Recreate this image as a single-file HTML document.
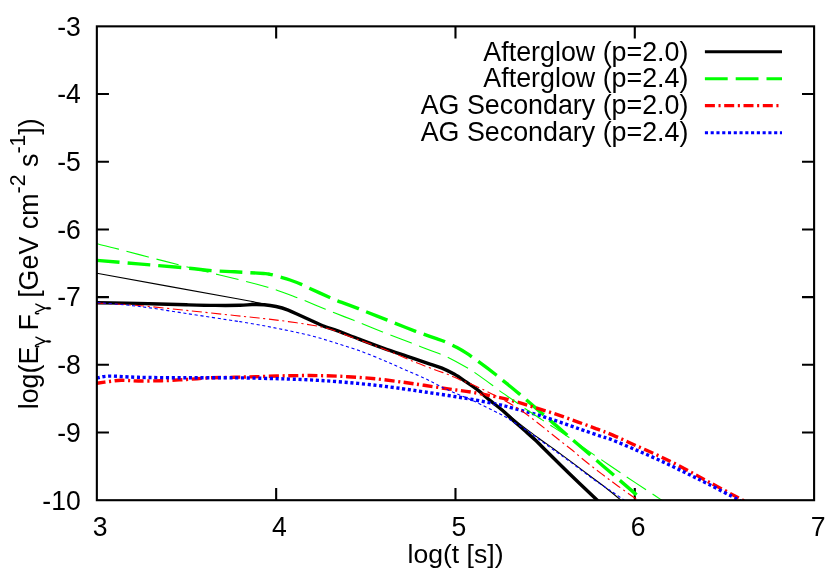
<!DOCTYPE html>
<html><head><meta charset="utf-8"><title>plot</title>
<style>
html,body{margin:0;padding:0;background:#fff;}
body{width:830px;height:581px;overflow:hidden;}
svg{display:block;will-change:transform;transform:translateZ(0);font-family:"Liberation Sans",sans-serif;font-size:26.6px;fill:#000;}
</style></head><body>
<svg width="830" height="581" viewBox="0 0 830 581">
<rect width="830" height="581" fill="#fff"/>
<defs><clipPath id="c"><rect x="96.85" y="26.35" width="717.25" height="473.84999999999997"/></clipPath></defs>
<g stroke="#000" stroke-width="2.1" fill="none">
<path d="M276.16 500.20V488.10M276.16 26.35V38.45"/>
<path d="M455.48 500.20V488.10M455.48 26.35V38.45"/>
<path d="M634.79 500.20V488.10M634.79 26.35V38.45"/>
<path d="M96.85 94.04H108.95M814.10 94.04H802.00"/>
<path d="M96.85 161.74H108.95M814.10 161.74H802.00"/>
<path d="M96.85 229.43H108.95M814.10 229.43H802.00"/>
<path d="M96.85 297.12H108.95M814.10 297.12H802.00"/>
<path d="M96.85 364.81H108.95M814.10 364.81H802.00"/>
<path d="M96.85 432.51H108.95M814.10 432.51H802.00"/>
</g>
<g clip-path="url(#c)" fill="none" stroke-linecap="butt" stroke-linejoin="round">
<path d="M96.85 302.70C103.71 302.82 123.08 303.05 138.00 303.40C152.93 303.75 173.52 304.47 186.40 304.80C199.28 305.13 206.37 305.32 215.30 305.40C224.23 305.48 233.88 305.45 240.00 305.30C246.12 305.15 247.98 304.60 252.00 304.50C256.02 304.40 260.08 304.37 264.10 304.70C268.12 305.03 272.08 305.60 276.10 306.50C280.12 307.40 284.18 308.60 288.20 310.10C292.22 311.60 296.18 313.68 300.20 315.50C304.22 317.32 308.28 319.18 312.30 321.00C316.32 322.82 320.52 324.93 324.30 326.40C328.08 327.87 329.20 327.68 335.00 329.80C340.80 331.92 351.07 336.05 359.10 339.10C367.13 342.15 375.17 345.22 383.20 348.10C391.23 350.98 399.50 353.73 407.30 356.40C415.10 359.07 424.22 362.15 430.00 364.10C435.78 366.05 437.98 366.43 442.00 368.10C446.02 369.77 450.08 371.80 454.10 374.10C458.12 376.40 462.08 379.18 466.10 381.90C470.12 384.62 474.18 387.28 478.20 390.40C482.22 393.52 486.18 397.30 490.20 400.60C494.22 403.90 498.67 407.10 502.30 410.20C505.93 413.30 508.37 415.90 512.00 419.20C515.63 422.50 520.08 426.40 524.10 430.00C528.12 433.60 532.68 437.58 536.10 440.80C539.52 444.02 538.95 443.73 544.60 449.30C550.25 454.87 561.35 465.83 570.00 474.20C578.65 482.57 591.17 494.42 596.50 499.50C601.83 504.58 601.08 503.83 602.00 504.70" stroke="#000" stroke-width="3.4"/>
<path d="M96.85 260.40C103.74 260.98 123.27 262.63 138.20 263.90C153.12 265.17 174.17 266.88 186.40 268.00C198.63 269.12 203.57 269.97 211.60 270.60C219.63 271.23 225.95 271.32 234.60 271.80C243.25 272.28 257.60 273.08 263.50 273.50C269.40 273.92 267.18 273.70 270.00 274.30C272.82 274.90 277.07 276.15 280.40 277.10C283.73 278.05 286.40 278.75 290.00 280.00C293.60 281.25 298.78 283.23 302.00 284.60C305.22 285.97 304.67 286.05 309.30 288.20C313.93 290.35 325.08 295.38 329.80 297.50C334.52 299.62 332.82 299.05 337.60 300.90C342.38 302.75 353.82 306.82 358.50 308.60C363.18 310.38 360.88 309.68 365.70 311.60C370.52 313.52 382.58 318.18 387.40 320.10C392.22 322.02 389.88 321.23 394.60 323.10C399.32 324.97 410.87 329.47 415.70 331.30C420.53 333.13 420.38 332.95 423.60 334.10C426.82 335.25 431.52 336.97 435.00 338.20C438.48 339.43 440.83 339.95 444.50 341.50C448.17 343.05 453.40 345.60 457.00 347.50C460.60 349.40 462.67 350.65 466.10 352.90C469.53 355.15 472.57 357.32 477.60 361.00C482.63 364.68 492.18 371.83 496.30 375.00C500.42 378.17 498.47 376.85 502.30 380.00C506.13 383.15 512.45 388.13 519.30 393.90C526.15 399.67 534.55 406.98 543.40 414.60C552.25 422.22 563.65 432.07 572.40 439.60C581.15 447.13 588.17 453.15 595.90 459.80C603.63 466.45 612.02 473.65 618.80 479.50C625.58 485.35 633.63 492.33 636.60 494.90" stroke="#00ff00" stroke-width="3.4" stroke-dasharray="22.8 8" stroke-dashoffset="0"/>
<path d="M96.85 383.20C98.92 382.92 105.22 381.98 109.30 381.50C113.38 381.02 116.48 380.38 121.30 380.30C126.12 380.22 131.37 380.93 138.20 381.00C145.03 381.07 154.27 380.95 162.30 380.70C170.33 380.45 178.37 379.98 186.40 379.50C194.43 379.02 202.47 378.17 210.50 377.80C218.53 377.43 226.57 377.50 234.60 377.30C242.63 377.10 249.47 376.87 258.70 376.60C267.93 376.33 279.97 375.87 290.00 375.70C300.03 375.53 309.27 375.43 318.90 375.60C328.53 375.77 338.17 376.15 347.80 376.70C357.43 377.25 367.40 377.97 376.70 378.90C386.00 379.83 395.70 381.23 403.60 382.30C411.50 383.37 416.67 384.20 424.10 385.30C431.53 386.40 440.17 387.73 448.20 388.90C456.23 390.07 463.67 390.85 472.30 392.30C480.93 393.75 493.38 396.20 500.00 397.60C506.62 399.00 507.98 399.62 512.00 400.70C516.02 401.78 520.08 402.90 524.10 404.10C528.12 405.30 532.08 406.65 536.10 407.90C540.12 409.15 544.18 410.32 548.20 411.60C552.22 412.88 556.18 414.20 560.20 415.60C564.22 417.00 568.28 418.55 572.30 420.00C576.32 421.45 580.28 422.83 584.30 424.30C588.32 425.77 591.73 427.03 596.40 428.80C601.07 430.57 605.63 432.07 612.30 434.90C618.97 437.73 628.37 442.18 636.40 445.80C644.43 449.42 652.47 452.78 660.50 456.60C668.53 460.42 676.57 464.48 684.60 468.70C692.63 472.92 699.23 476.77 708.70 481.90C718.17 487.03 734.68 495.82 741.40 499.50C748.12 503.18 747.73 503.25 749.00 504.00" stroke="#ff0000" stroke-width="3.4" stroke-dasharray="10 3.6 2.1 3.6" stroke-dashoffset="1.4"/>
<path d="M96.85 378.00C98.92 377.68 102.41 376.22 109.30 376.10C116.19 375.98 125.35 377.02 138.20 377.30C151.05 377.58 170.33 377.72 186.40 377.80C202.47 377.88 220.67 377.68 234.60 377.80C248.53 377.92 260.28 378.27 270.00 378.50C279.72 378.73 284.75 378.88 292.90 379.20C301.05 379.52 309.75 379.85 318.90 380.40C328.05 380.95 338.17 381.67 347.80 382.50C357.43 383.33 367.60 384.37 376.70 385.40C385.80 386.43 394.50 387.62 402.40 388.70C410.30 389.78 416.47 390.77 424.10 391.90C431.73 393.03 440.17 394.23 448.20 395.50C456.23 396.77 463.67 397.95 472.30 399.50C480.93 401.05 493.38 403.40 500.00 404.80C506.62 406.20 507.98 406.85 512.00 407.90C516.02 408.95 520.08 410.00 524.10 411.10C528.12 412.20 532.08 413.30 536.10 414.50C540.12 415.70 544.18 417.02 548.20 418.30C552.22 419.58 556.18 420.85 560.20 422.20C564.22 423.55 568.28 425.00 572.30 426.40C576.32 427.80 579.68 429.00 584.30 430.60C588.92 432.20 595.33 434.43 600.00 436.00C604.67 437.57 606.23 437.65 612.30 440.00C618.37 442.35 628.37 446.65 636.40 450.10C644.43 453.55 652.47 457.00 660.50 460.70C668.53 464.40 676.57 468.37 684.60 472.30C692.63 476.23 699.83 479.77 708.70 484.30C717.57 488.83 731.75 496.30 737.80 499.50C743.85 502.70 743.80 502.83 745.00 503.50" stroke="#0000ff" stroke-width="3.4" stroke-dasharray="3.1 2.67" stroke-dashoffset="0"/>
<path d="M96.85 273.20C120.71 277.55 214.14 294.55 240.00 299.30C265.86 304.05 248.38 301.00 252.00 301.70C255.62 302.40 258.70 302.90 261.70 303.50C264.70 304.10 267.60 304.80 270.00 305.30C272.40 305.80 273.07 305.70 276.10 306.50C279.13 307.30 284.18 308.60 288.20 310.10C292.22 311.60 296.18 313.68 300.20 315.50C304.22 317.32 308.28 319.18 312.30 321.00C316.32 322.82 320.52 324.93 324.30 326.40C328.08 327.87 329.20 327.68 335.00 329.80C340.80 331.92 351.07 336.05 359.10 339.10C367.13 342.15 375.17 345.22 383.20 348.10C391.23 350.98 399.50 353.73 407.30 356.40C415.10 359.07 424.22 362.15 430.00 364.10C435.78 366.05 437.98 366.43 442.00 368.10C446.02 369.77 450.08 371.80 454.10 374.10C458.12 376.40 462.08 379.18 466.10 381.90C470.12 384.62 474.18 387.28 478.20 390.40C482.22 393.52 486.18 397.45 490.20 400.60C494.22 403.75 498.67 406.47 502.30 409.30C505.93 412.13 509.37 415.38 512.00 417.60C514.63 419.82 515.08 420.22 518.10 422.60C521.12 424.98 526.08 428.88 530.10 431.90C534.12 434.92 538.18 437.80 542.20 440.70C546.22 443.60 549.57 445.93 554.20 449.30C558.83 452.67 565.37 457.47 570.00 460.90C574.63 464.33 577.98 466.88 582.00 469.90C586.02 472.92 590.08 475.98 594.10 479.00C598.12 482.02 601.88 484.68 606.10 488.00C610.32 491.32 616.08 496.23 619.40 498.90C622.72 501.57 624.90 503.15 626.00 504.00" stroke="#000" stroke-width="1.1"/>
<path d="M96.85 243.80C100.46 244.68 109.92 246.90 118.50 249.10C127.08 251.30 138.20 254.38 148.30 257.00C158.40 259.62 169.00 262.23 179.10 264.80C189.20 267.37 198.95 269.95 208.90 272.40C218.85 274.85 232.62 278.00 238.80 279.50C244.98 281.00 241.18 280.12 246.00 281.40C250.82 282.68 262.78 285.83 267.70 287.20C272.62 288.57 270.68 287.88 275.50 289.60C280.32 291.32 291.77 295.68 296.60 297.50C301.43 299.32 299.68 298.55 304.50 300.50C309.32 302.45 320.42 307.10 325.50 309.20C330.58 311.30 330.30 311.25 335.00 313.10C339.70 314.95 349.28 318.58 353.70 320.30C358.12 322.02 356.68 321.47 361.50 323.40C366.32 325.33 377.78 329.97 382.60 331.90C387.42 333.83 385.58 333.13 390.40 335.00C395.22 336.87 406.78 341.30 411.50 343.10C416.22 344.90 415.62 344.60 418.70 345.80C421.78 347.00 426.52 348.97 430.00 350.30C433.48 351.63 436.68 352.65 439.60 353.80C442.52 354.95 442.98 354.92 447.50 357.20C452.02 359.48 462.28 365.02 466.70 367.50C471.12 369.98 469.67 369.10 474.00 372.10C478.33 375.10 488.48 382.42 492.70 385.50C496.92 388.58 495.70 388.02 499.30 390.60C502.90 393.18 510.17 398.10 514.30 401.00C518.43 403.90 519.45 404.85 524.10 408.00C528.75 411.15 537.88 417.07 542.20 419.90C546.52 422.73 545.58 422.12 550.00 425.00C554.42 427.88 561.95 432.63 568.70 437.20C575.45 441.77 585.27 448.78 590.50 452.40C595.73 456.02 595.28 455.63 600.10 458.90C604.92 462.17 615.08 469.07 619.40 472.00C623.72 474.93 621.68 473.63 626.00 476.50C630.32 479.37 640.98 486.35 645.30 489.20C649.62 492.05 649.48 491.98 651.90 493.60C654.32 495.22 657.28 497.20 659.80 498.90C662.32 500.60 665.80 502.98 667.00 503.80" stroke="#00ff00" stroke-width="1.1" stroke-dasharray="22.8 8" stroke-dashoffset="0"/>
<path d="M96.85 303.00C103.74 303.42 123.27 304.27 138.20 305.50C153.12 306.73 170.33 308.73 186.40 310.40C202.47 312.07 221.65 314.13 234.60 315.50C247.55 316.87 255.17 317.58 264.10 318.60C273.03 319.62 280.17 320.50 288.20 321.60C296.23 322.70 306.28 324.20 312.30 325.20C318.32 326.20 320.28 326.60 324.30 327.60C328.32 328.60 332.62 329.88 336.40 331.20C340.18 332.52 339.20 332.57 347.00 335.50C354.80 338.43 371.75 344.32 383.20 348.80C394.65 353.28 406.88 358.83 415.70 362.40C424.52 365.97 430.68 368.18 436.10 370.20C441.52 372.22 444.18 372.88 448.20 374.50C452.22 376.12 456.18 378.22 460.20 379.90C464.22 381.58 468.28 382.90 472.30 384.60C476.32 386.30 480.68 388.38 484.30 390.10C487.92 391.82 491.38 393.57 494.00 394.90C496.62 396.23 497.00 396.47 500.00 398.10C503.00 399.73 507.98 402.30 512.00 404.70C516.02 407.10 520.08 409.68 524.10 412.50C528.12 415.32 532.08 418.48 536.10 421.60C540.12 424.72 544.18 428.00 548.20 431.20C552.22 434.40 556.38 437.78 560.20 440.80C564.02 443.82 567.47 446.35 571.10 449.30C574.73 452.25 578.17 455.37 582.00 458.50C585.83 461.63 590.08 464.98 594.10 468.10C598.12 471.22 602.08 474.18 606.10 477.20C610.12 480.22 613.37 482.68 618.20 486.20C623.03 489.72 631.13 495.42 635.10 498.30C639.07 501.18 640.85 502.63 642.00 503.50" stroke="#ff0000" stroke-width="1.1" stroke-dasharray="10 3.6 2.1 3.6" stroke-dashoffset="1"/>
<path d="M96.85 302.50C103.74 303.13 123.27 304.47 138.20 306.30C153.12 308.13 170.33 311.07 186.40 313.50C202.47 315.93 225.67 319.55 234.60 320.90C243.53 322.25 235.08 320.78 240.00 321.60C244.92 322.42 256.07 324.30 264.10 325.80C272.13 327.30 280.17 328.90 288.20 330.60C296.23 332.30 304.50 333.97 312.30 336.00C320.10 338.03 327.20 340.37 335.00 342.80C342.80 345.23 351.07 347.70 359.10 350.60C367.13 353.50 376.38 357.37 383.20 360.20C390.02 363.03 393.18 364.62 400.00 367.60C406.82 370.58 418.08 375.35 424.10 378.10C430.12 380.85 432.08 382.10 436.10 384.10C440.12 386.10 442.17 387.38 448.20 390.10C454.23 392.82 463.67 396.42 472.30 400.40C480.93 404.38 493.38 410.57 500.00 414.00C506.62 417.43 507.98 418.53 512.00 421.00C516.02 423.47 520.08 426.10 524.10 428.80C528.12 431.50 531.48 433.88 536.10 437.20C540.72 440.52 546.15 444.62 551.80 448.70C557.45 452.78 562.97 456.53 570.00 461.70C577.03 466.87 588.00 475.37 594.00 479.70C600.00 484.03 602.67 485.48 606.00 487.70C609.33 489.92 611.13 491.03 614.00 493.00C616.87 494.97 620.62 497.68 623.20 499.50C625.78 501.32 628.45 503.17 629.50 503.90" stroke="#0000ff" stroke-width="1.1" stroke-dasharray="3.1 2.67" stroke-dashoffset="-0.6"/>
</g>
<rect x="96.85" y="26.35" width="717.25" height="473.84999999999997" stroke="#000" stroke-width="2.1" fill="none"/>
<g>
<text transform="translate(100.20 535.9) scale(1 1.055)" text-anchor="middle">3</text>
<text transform="translate(279.51 535.9) scale(1 1.055)" text-anchor="middle">4</text>
<text transform="translate(458.83 535.9) scale(1 1.055)" text-anchor="middle">5</text>
<text transform="translate(638.14 535.9) scale(1 1.055)" text-anchor="middle">6</text>
<text transform="translate(818.10 535.9) scale(1 1.055)" text-anchor="middle">7</text>
<text transform="translate(80.8 35.65) scale(1 1.055)" text-anchor="end">-3</text>
<text transform="translate(80.8 103.34) scale(1 1.055)" text-anchor="end">-4</text>
<text transform="translate(80.8 171.04) scale(1 1.055)" text-anchor="end">-5</text>
<text transform="translate(80.8 238.73) scale(1 1.055)" text-anchor="end">-6</text>
<text transform="translate(80.8 306.42) scale(1 1.055)" text-anchor="end">-7</text>
<text transform="translate(80.8 374.11) scale(1 1.055)" text-anchor="end">-8</text>
<text transform="translate(80.8 441.81) scale(1 1.055)" text-anchor="end">-9</text>
<text transform="translate(80.8 509.50) scale(1 1.055)" text-anchor="end">-10</text>
</g>
<g>
<text x="688.4" y="60.80" text-anchor="end" font-size="26.83">Afterglow (p=2.0)</text>
<path d="M704.9 51.70H782" stroke="#000" stroke-width="3.1" fill="none"/>
<text x="688.4" y="87.00" text-anchor="end" font-size="26.83">Afterglow (p=2.4)</text>
<path d="M704.9 78.80H782" stroke="#00ff00" stroke-width="3.1" fill="none" stroke-dasharray="22.8 8"/>
<text x="688.4" y="114.10" text-anchor="end" font-size="26.83">AG Secondary (p=2.0)</text>
<path d="M704.9 105.60H782" stroke="#ff0000" stroke-width="3.1" fill="none" stroke-dasharray="10 3.6 2.1 3.6"/>
<text x="688.4" y="141.20" text-anchor="end" font-size="26.83">AG Secondary (p=2.4)</text>
<path d="M704.9 132.80H782" stroke="#0000ff" stroke-width="3.1" fill="none" stroke-dasharray="3.1 2.67"/>
</g>
<text x="455.5" y="562.8" text-anchor="middle">log(t [s])</text>
<text transform="translate(38.3 263.8) rotate(-90)" text-anchor="middle" font-size="26.85">log(E<tspan dy="7.8" font-size="17.5" fill="none">&#947;</tspan><tspan dy="-7.8"> F</tspan><tspan dy="7.8" font-size="17.5" fill="none">&#947;</tspan><tspan dy="-7.8"> [GeV cm</tspan><tspan dy="-13" font-size="21.3">-2</tspan><tspan dy="13"> s</tspan><tspan dy="-13" font-size="21.3">-1</tspan><tspan dy="13">])</tspan></text>
<g fill="none" stroke="#000" stroke-width="1.5" stroke-linecap="round" stroke-linejoin="round">
<path d="M35.9 304.1L44.7 308.2"/>
<path d="M44.7 308.4L38.3 311.1Q35.2 312.0 35.5 313.1Q36.2 314.3 38.6 313.5"/>
<path d="M44.6 308.3C46.5 307.1 50.9 306.9 50.9 308.4C50.9 309.9 46.5 309.5 44.6 308.3Z" fill="#000" stroke-width="0.4"/>
</g>
<g transform="translate(0 33.07)" fill="none" stroke="#000" stroke-width="1.5" stroke-linecap="round" stroke-linejoin="round">
<path d="M35.9 304.1L44.7 308.2"/>
<path d="M44.7 308.4L38.3 311.1Q35.2 312.0 35.5 313.1Q36.2 314.3 38.6 313.5"/>
<path d="M44.6 308.3C46.5 307.1 50.9 306.9 50.9 308.4C50.9 309.9 46.5 309.5 44.6 308.3Z" fill="#000" stroke-width="0.4"/>
</g>
</svg>
</body></html>
